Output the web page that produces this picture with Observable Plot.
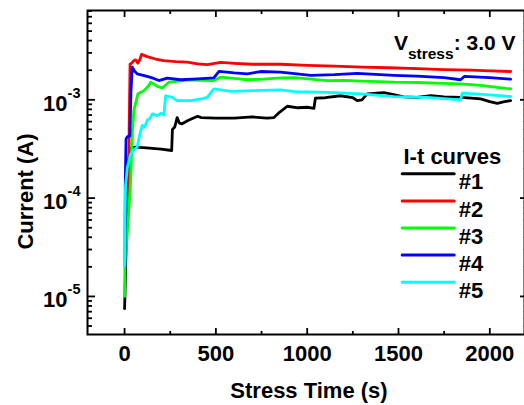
<!DOCTYPE html>
<html><head><meta charset="utf-8">
<script src="https://cdn.jsdelivr.net/npm/d3@7"></script>
<script src="https://cdn.jsdelivr.net/npm/@observablehq/plot@0.6"></script>
<style>body{margin:0;background:#fff;}</style>
</head><body><div id="chart"></div>
<script>
// ---- data ----
const seriesNames = ["#1", "#2", "#3", "#4", "#5"];
const seriesColors = ["#000000", "#ff0000", "#00ff00", "#0000ff", "#00ffff"];

const t1 = [0, 2, 8, 15, 27, 60, 120, 200, 258, 262, 275, 288, 300, 315, 350, 400, 420, 500, 600, 700, 780, 818, 850, 891, 950, 1000, 1037, 1045, 1100, 1183, 1250, 1274, 1300, 1329, 1380, 1420, 1480, 1529, 1600, 1676, 1750, 1840, 1900, 1950, 2000, 2041, 2080, 2114];
const i1 = [7.5e-6, 1.0e-5, 3.0e-5, 1.5e-4, 3.2e-4, 3.3e-4, 3.25e-4, 3.15e-4, 3.05e-4, 5.0e-4, 5.3e-4, 6.6e-4, 5.8e-4, 5.7e-4, 6.2e-4, 6.8e-4, 6.6e-4, 6.5e-4, 6.5e-4, 6.7e-4, 6.5e-4, 6.6e-4, 7.5e-4, 8.6e-4, 8.3e-4, 8.4e-4, 8.2e-4, 1.04e-3, 1.05e-3, 1.1e-3, 1.05e-3, 9.8e-4, 1.0e-3, 1.15e-3, 1.17e-3, 1.18e-3, 1.12e-3, 1.07e-3, 1.06e-3, 1.1e-3, 1.07e-3, 1.06e-3, 1.04e-3, 1.02e-3, 9.6e-4, 9.2e-4, 9.6e-4, 9.8e-4];

const t2 = [22, 25, 30, 37, 50, 60, 73, 85, 93, 124, 170, 215, 280, 343, 400, 453, 526, 600, 700, 854, 1000, 1150, 1300, 1450, 1600, 1750, 1900, 2000, 2114];
const i2 = [7.0e-5, 5.0e-4, 2.3e-3, 2.35e-3, 2.5e-3, 2.55e-3, 2.36e-3, 2.6e-3, 2.9e-3, 2.75e-3, 2.6e-3, 2.5e-3, 2.45e-3, 2.42e-3, 2.32e-3, 2.28e-3, 2.4e-3, 2.35e-3, 2.3e-3, 2.3e-3, 2.24e-3, 2.2e-3, 2.15e-3, 2.12e-3, 2.08e-3, 2.03e-3, 2.0e-3, 1.97e-3, 1.94e-3];

const t3 = [0, 2, 20, 33, 42, 51, 73, 106, 133, 143, 160, 179, 206, 243, 300, 343, 420, 489, 526, 600, 672, 760, 854, 930, 1020, 1110, 1200, 1300, 1475, 1600, 1700, 1840, 1950, 2050, 2114];
const i3 = [1e-5, 2e-5, 6e-5, 1.5e-4, 4.5e-4, 7.8e-4, 1.15e-3, 1.24e-3, 1.4e-3, 1.51e-3, 1.45e-3, 1.37e-3, 1.32e-3, 1.51e-3, 1.55e-3, 1.6e-3, 1.58e-3, 1.57e-3, 1.7e-3, 1.65e-3, 1.6e-3, 1.62e-3, 1.67e-3, 1.68e-3, 1.62e-3, 1.57e-3, 1.58e-3, 1.55e-3, 1.51e-3, 1.5e-3, 1.48e-3, 1.45e-3, 1.4e-3, 1.33e-3, 1.29e-3];

const t4 = [2, 4, 8, 15, 29, 35, 42, 55, 69, 124, 160, 188, 234, 307, 400, 489, 517, 600, 672, 745, 854, 1020, 1150, 1274, 1400, 1475, 1600, 1750, 1840, 1860, 2000, 2114];
const i4 = [2e-5, 1.5e-4, 4.0e-4, 4.2e-4, 4.3e-4, 1.2e-3, 2.15e-3, 1.95e-3, 1.84e-3, 1.73e-3, 1.65e-3, 1.57e-3, 1.66e-3, 1.6e-3, 1.63e-3, 1.67e-3, 1.95e-3, 1.88e-3, 1.84e-3, 1.94e-3, 1.91e-3, 1.77e-3, 1.8e-3, 1.86e-3, 1.8e-3, 1.77e-3, 1.74e-3, 1.68e-3, 1.6e-3, 1.73e-3, 1.68e-3, 1.62e-3];

const t5 = [0, 2, 5, 15, 33, 50, 69, 84, 97, 110, 124, 140, 152, 179, 200, 215, 225, 261, 288, 361, 420, 453, 489, 580, 700, 854, 930, 1110, 1293, 1475, 1657, 1840, 1849, 2000, 2114];
const i5 = [2e-5, 5e-5, 1.3e-4, 2.06e-4, 2.8e-4, 3.1e-4, 3.3e-4, 4.5e-4, 5.5e-4, 5.3e-4, 6.2e-4, 6.5e-4, 7.2e-4, 6.9e-4, 7.3e-4, 7.0e-4, 1.1e-3, 1.06e-3, 9.8e-4, 9.8e-4, 1.02e-3, 1.06e-3, 1.29e-3, 1.22e-3, 1.24e-3, 1.26e-3, 1.21e-3, 1.19e-3, 1.15e-3, 1.08e-3, 1.06e-3, 1.0e-3, 1.17e-3, 1.12e-3, 1.08e-3];

const xMajor = [0, 500, 1000, 1500, 2000];
const xMinor = [250, 750, 1250, 1750];
const yMajor = [1e-5, 1e-4, 1e-3];
const yMinor = [5e-6, 6e-6, 7e-6, 8e-6, 9e-6, 2e-5, 3e-5, 4e-5, 5e-5, 6e-5, 7e-5, 8e-5, 9e-5, 2e-4, 3e-4, 4e-4, 5e-4, 6e-4, 7e-4, 8e-4, 9e-4, 2e-3, 3e-3, 4e-3, 5e-3, 6e-3, 7e-3, 8e-3];

const xLabel = "Stress Time (s)";
const yLabel = "Current (A)";
const legendTitle = "I-t curves";
const annotation = "V_stress: 3.0 V";

// ---- build table ----
const times = [t1, t2, t3, t4, t5];
const currents = [i1, i2, i3, i4, i5];
const rows = seriesNames.flatMap((s, k) => times[k].map((t, j) => ({s, t, i: currents[k][j]})));

const FONT = "'Liberation Sans', Arial, Helvetica, sans-serif";
const FS = 22;
const noText = () => "";
const lineShape = {draw(context, l) { context.moveTo(0, 0); context.lineTo(0, -l); }};

const tickAxes = [
  Plot.axisX(xMajor, {anchor: "bottom", tickSize: -6, tickFormat: noText, label: null, strokeWidth: 1.8}),
  Plot.axisX(xMinor, {anchor: "bottom", tickSize: -3, tickFormat: noText, label: null, strokeWidth: 1.8}),
  Plot.axisX(xMajor, {anchor: "top", tickSize: -6, tickFormat: noText, label: null, strokeWidth: 1.8}),
  Plot.axisX(xMinor, {anchor: "top", tickSize: -3, tickFormat: noText, label: null, strokeWidth: 1.8}),
  Plot.axisY(yMajor, {anchor: "left", tickSize: -8, tickFormat: noText, label: null, strokeWidth: 1.8}),
  Plot.axisY(yMinor, {anchor: "left", tickSize: -5, tickFormat: noText, label: null, strokeWidth: 1.8}),
  Plot.axisY(yMajor, {anchor: "right", tickSize: -5, tickFormat: noText, label: null, strokeWidth: 1.8}),
  Plot.axisY(yMinor, {anchor: "right", tickSize: -2, tickFormat: noText, label: null, strokeWidth: 1, stroke: "#bbb"})
];

const chart = Plot.plot({
  width: 524,
  height: 405,
  marginLeft: 87,
  marginRight: 0,
  marginTop: 10,
  marginBottom: 71,
  style: {fontFamily: FONT, fontWeight: "bold", fontSize: FS + "px", background: "#fff", color: "#000", overflow: "visible"},
  x: {domain: [-203, 2190]},
  y: {type: "log", domain: [4.1e-6, 8.1e-3]},
  color: {domain: seriesNames, range: seriesColors},
  marks: [
    Plot.line(rows, {x: "t", y: "i", z: "s", stroke: "s", strokeWidth: 2.8, strokeLinejoin: "round"}),
    ...tickAxes,
    Plot.axisX(xMajor, {anchor: "bottom", tickSize: 0, tickPadding: 11, fontSize: FS, fontWeight: "bold", label: null,
      tickFormat: d => String(d)}),
    Plot.axisY(yMajor, {anchor: "left", tickSize: 0, tickPadding: 7, dy: 4, fontSize: FS, fontWeight: "bold", label: null,
      tickFormat: d => "10^" + Math.round(Math.log10(d))}),
    Plot.text([xLabel], {frameAnchor: "bottom", lineAnchor: "top", dx: 3, dy: 47.7, text: d => d, fontSize: FS, fontWeight: "bold"}),
    Plot.text([yLabel], {frameAnchor: "left", textAnchor: "middle", rotate: -90, dx: -62, dy: 19, text: d => d, fontSize: FS, fontWeight: "bold"}),
    Plot.text([annotation], {frameAnchor: "top-right", textAnchor: "end", dx: -9, dy: 25, text: d => d, fontSize: 21, fontWeight: "bold"}),
    Plot.text([legendTitle], {frameAnchor: "top-right", textAnchor: "start", dx: -121, dy: 138.3, text: d => d, fontSize: FS, fontWeight: "bold"}),
    ...seriesNames.map((s, k) => Plot.vector([s], {frameAnchor: "top-right", dx: -96.3, dy: 163.3 + 27.1 * k, rotate: 90, length: 52, anchor: "middle", stroke: d => d, strokeWidth: 3, shape: lineShape})),
    ...seriesNames.map((s, k) => Plot.text([s], {frameAnchor: "top-right", textAnchor: "start", dx: -65.7, dy: 163.3 + 27.1 * k, text: d => d, fontSize: FS, fontWeight: "bold"})),
    Plot.frame({strokeWidth: 2})
  ]
});

// ---- superscript / subscript text post-processing ----
const NS = "http://www.w3.org/2000/svg";
function tspan(txt, attrs) {
  const e = document.createElementNS(NS, "tspan");
  for (const k in attrs) e.setAttribute(k, attrs[k]);
  e.textContent = txt;
  return e;
}
chart.querySelectorAll("text").forEach(t => {
  const s = t.textContent;
  const m = s.match(/^10\^(-?\d+)$/);
  if (m) {
    t.textContent = "10";
    t.appendChild(tspan(m[1], {dy: "-13", "font-size": "14.5"}));
  } else if (s.startsWith("V_stress")) {
    t.textContent = "V";
    t.appendChild(tspan("stress", {dy: "8.3", "font-size": "15.5"}));
    t.appendChild(tspan(s.slice("V_stress".length), {dy: "-8.3", "font-size": "21"}));
  }
});

document.getElementById("chart").appendChild(chart);
</script>
</body></html>
